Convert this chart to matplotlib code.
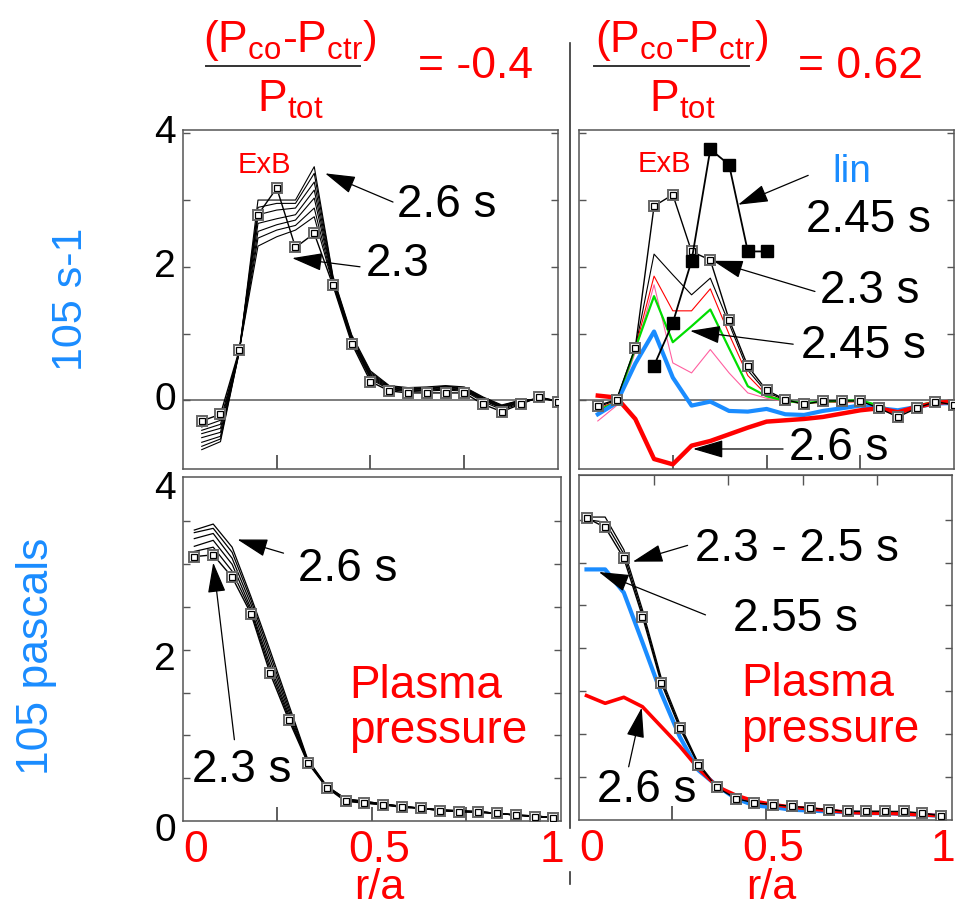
import matplotlib.pyplot as plt
from matplotlib.lines import Line2D

plt.rcParams['font.family'] = ['Liberation Sans', 'DejaVu Sans']
plt.rcParams['mathtext.fontset'] = 'custom'
plt.rcParams['mathtext.rm'] = 'Liberation Sans'
plt.rcParams['mathtext.it'] = 'Liberation Sans:italic'
plt.rcParams['mathtext.bf'] = 'Liberation Sans:bold'

# ---- data ----
r_top = [0.05, 0.10, 0.15, 0.20, 0.25, 0.30, 0.35, 0.40, 0.45, 0.50,
         0.55, 0.60, 0.65, 0.70, 0.75, 0.80, 0.85, 0.90, 0.95, 1.00]
r_bl = [0.03, 0.08, 0.13, 0.18, 0.23, 0.28, 0.33, 0.38, 0.43, 0.48,
        0.53, 0.58, 0.63, 0.68, 0.73, 0.78, 0.83, 0.88, 0.93, 0.98]
r_br = [0.02, 0.07, 0.12, 0.17, 0.22, 0.27, 0.32, 0.37, 0.42, 0.47,
        0.52, 0.57, 0.62, 0.67, 0.72, 0.77, 0.82, 0.87, 0.92, 0.97]
r_lin = [0.20, 0.25, 0.30, 0.35, 0.40, 0.45, 0.50]

# ExB shearing rate, (Pco-Pctr)/Ptot = -0.4 (10^5 s-1)
exb_l_23 = [-0.31, -0.21, 0.75, 2.78, 3.18, 2.29, 2.50, 1.72, 0.85, 0.28,
            0.14, 0.11, 0.11, 0.11, 0.11, -0.06, -0.17, -0.06, 0.05, -0.02]
exb_l_later = [  # 2.35 s ... 2.6 s
    [-0.40, -0.30, 0.74, 2.31, 2.45, 2.55, 2.75, 1.74, 0.88, 0.32, 0.16, 0.13, 0.14, 0.15, 0.14, -0.02, -0.14, -0.05, 0.04, -0.02],
    [-0.45, -0.36, 0.74, 2.43, 2.55, 2.62, 2.88, 1.76, 0.90, 0.34, 0.17, 0.14, 0.15, 0.17, 0.15, 0.00, -0.12, -0.04, 0.04, -0.01],
    [-0.50, -0.42, 0.74, 2.53, 2.63, 2.70, 3.03, 1.78, 0.91, 0.36, 0.18, 0.15, 0.16, 0.18, 0.16, 0.01, -0.11, -0.03, 0.03, -0.01],
    [-0.56, -0.48, 0.73, 2.65, 2.72, 2.78, 3.15, 1.80, 0.93, 0.38, 0.19, 0.16, 0.17, 0.19, 0.17, 0.02, -0.10, -0.02, 0.03, 0.00],
    [-0.63, -0.54, 0.73, 2.78, 2.85, 2.88, 3.27, 1.82, 0.94, 0.40, 0.20, 0.17, 0.18, 0.20, 0.18, 0.03, -0.09, -0.01, 0.02, 0.00],
    [-0.69, -0.58, 0.72, 2.89, 2.95, 2.95, 3.40, 1.84, 0.96, 0.42, 0.21, 0.18, 0.19, 0.21, 0.19, 0.04, -0.08, 0.00, 0.02, 0.00],
    [-0.74, -0.62, 0.72, 3.00, 3.00, 3.00, 3.50, 1.86, 0.98, 0.44, 0.22, 0.19, 0.20, 0.22, 0.20, 0.05, -0.07, 0.00, 0.02, 0.00],
]

# ExB shearing rate, (Pco-Pctr)/Ptot = 0.62
exb_r_23 = [-0.08, 0.01, 0.79, 2.91, 3.08, 2.23, 2.10, 1.21, 0.51, 0.15,
            0.01, -0.06, -0.01, -0.01, -0.01, -0.12, -0.25, -0.12, -0.02, -0.07]
exb_r_235 = [-0.10, 0.00, 0.78, 2.19, 1.88, 1.58, 1.83, 1.15, 0.45, 0.12,
             0.00, -0.05, -0.02, -0.02, -0.01, -0.10, -0.22, -0.10, -0.03, -0.05]
exb_r_24 = [-0.12, -0.02, 0.78, 1.86, 1.34, 1.34, 1.67, 0.99, 0.37, 0.08,
            -0.01, -0.05, -0.03, -0.03, -0.02, -0.10, -0.20, -0.10, -0.03, -0.05]
exb_r_245 = [-0.15, -0.03, 0.78, 1.56, 0.87, 1.11, 1.36, 0.78, 0.21, 0.06,
             -0.01, -0.04, -0.02, -0.01, 0.00, -0.08, -0.18, -0.08, -0.02, -0.04]
exb_r_25 = [-0.31, -0.08, 0.72, 1.73, 0.56, 0.41, 0.76, 0.41, 0.11, 0.03,
            -0.02, -0.05, -0.03, -0.02, -0.01, -0.08, -0.18, -0.08, -0.02, -0.04]
exb_r_255 = [-0.21, -0.04, 0.55, 1.03, 0.34, -0.08, -0.02, -0.16, -0.17, -0.13,
             -0.21, -0.22, -0.16, -0.12, -0.08, -0.12, -0.15, -0.10, -0.05, -0.04]
exb_r_26 = [0.07, 0.04, -0.28, -0.88, -0.96, -0.68, -0.61, -0.51, -0.41, -0.32,
            -0.30, -0.28, -0.25, -0.20, -0.15, -0.12, -0.18, -0.10, -0.04, -0.02]
lin_245 = [0.52, 1.16, 2.09, 3.76, 3.53, 2.23, 2.23]

# Plasma pressure (10^5 pascals)
p_l_23 = [3.09, 3.11, 2.85, 2.42, 1.73, 1.18, 0.68, 0.39, 0.23, 0.21,
          0.19, 0.16, 0.15, 0.12, 0.11, 0.11, 0.09, 0.07, 0.05, 0.04]
p_l_later = [
    [3.15, 3.20, 2.92, 2.45, 1.78, 1.21, 0.69, 0.40, 0.24, 0.21, 0.19, 0.16, 0.15, 0.12, 0.11, 0.10, 0.09, 0.07, 0.05, 0.04],
    [3.21, 3.28, 3.00, 2.48, 1.83, 1.24, 0.69, 0.40, 0.25, 0.22, 0.19, 0.17, 0.15, 0.13, 0.11, 0.10, 0.09, 0.07, 0.05, 0.04],
    [3.30, 3.36, 3.07, 2.53, 1.89, 1.28, 0.70, 0.40, 0.25, 0.22, 0.20, 0.17, 0.15, 0.13, 0.12, 0.11, 0.09, 0.07, 0.06, 0.04],
    [3.37, 3.42, 3.14, 2.58, 1.95, 1.32, 0.71, 0.41, 0.26, 0.23, 0.20, 0.17, 0.15, 0.13, 0.12, 0.11, 0.09, 0.07, 0.06, 0.04],
    [3.40, 3.47, 3.20, 2.62, 2.00, 1.36, 0.72, 0.41, 0.26, 0.23, 0.20, 0.17, 0.15, 0.13, 0.12, 0.11, 0.09, 0.07, 0.06, 0.04],
]
p_r_23 = [3.52, 3.41, 3.05, 2.37, 1.60, 1.07, 0.64, 0.38, 0.25, 0.20,
          0.18, 0.16, 0.14, 0.12, 0.10, 0.10, 0.10, 0.10, 0.08, 0.05]
p_r_later = [
    [3.50, 3.47, 3.10, 2.41, 1.63, 1.09, 0.65, 0.38, 0.25, 0.20, 0.18, 0.16, 0.14, 0.12, 0.10, 0.10, 0.10, 0.09, 0.08, 0.05],
    [3.53, 3.53, 3.15, 2.45, 1.66, 1.12, 0.66, 0.39, 0.25, 0.20, 0.18, 0.16, 0.14, 0.12, 0.10, 0.10, 0.10, 0.09, 0.08, 0.05],
]
p_r_255 = [2.92, 2.92, 2.65, 2.07, 1.48, 0.97, 0.58, 0.40, 0.25, 0.17,
           0.15, 0.12, 0.11, 0.10, 0.09, 0.08, 0.08, 0.07, 0.06, 0.05]
p_r_26 = [1.45, 1.36, 1.43, 1.32, 1.09, 0.86, 0.60, 0.39, 0.29, 0.22,
          0.18, 0.15, 0.13, 0.11, 0.09, 0.08, 0.08, 0.07, 0.06, 0.05]

RED = '#ff0000'
BLUE = '#1a8cff'
GREEN = '#00dd00'
PINK = '#ff5fa0'
FRAME = '#555555'
BIG = 33

fig = plt.figure(figsize=(9.56, 9.07), dpi=100)
ax_tl = fig.add_axes([0.1914, 0.4829, 0.3923, 0.3738])
ax_tr = fig.add_axes([0.6057, 0.4829, 0.3923, 0.3738])
ax_bl = fig.add_axes([0.1914, 0.0948, 0.3954, 0.3793])
ax_br = fig.add_axes([0.6057, 0.0959, 0.3902, 0.3804])


def frame(ax, ylim, yticks, xticks):
    ax.set_xlim(0, 1)
    ax.set_ylim(*ylim)
    for s in ax.spines.values():
        s.set_color(FRAME)
        s.set_linewidth(1.1)
    ax.set_yticks(yticks)
    ax.set_yticklabels([])
    ax.tick_params(axis='y', direction='in', left=True, right=True,
                   length=5, width=1, color=FRAME)
    ax.set_xticks(xticks)
    ax.set_xticklabels([])
    ax.tick_params(axis='x', direction='in', length=10, width=1.1, color='#333333')


def squares(ax, x, y):
    ax.plot(x, y, color='black', lw=1.0, marker='s', ms=7.5, mfc='white',
            mec='#666666', mew=1.4, zorder=5)
    ax.plot(x, y, ls='none', marker='s', ms=4.0, mfc='white',
            mec='black', mew=0.9, zorder=6)


def arrow(ax, tail, tip):
    ax.annotate('', xy=tip, xytext=tail, annotation_clip=False,
                arrowprops=dict(arrowstyle='-|>,head_length=0.95,head_width=0.28',
                                mutation_scale=20, lw=0.9, color='black',
                                shrinkA=0, shrinkB=0))


def label(ax, x, y, s, color='black', size=BIG):
    ax.text(x, y, s, color=color, fontsize=size, ha='center', va='baseline')


top_y = (-1.03, 4.05)
bot_y = (0, 4.02)
frame(ax_tl, top_y, [0, 1, 2, 3, 4], [0.25, 0.5, 0.75])
frame(ax_tr, top_y, [0, 1, 2, 3, 4], [0.25, 0.5, 0.75])
frame(ax_bl, bot_y, [0.5, 1, 1.5, 2, 2.5, 3, 3.5], [0.25, 0.5, 0.75])
frame(ax_br, bot_y, [0.5, 1, 1.5, 2, 2.5, 3, 3.5], [0.25, 0.5])
sec = ax_br.secondary_xaxis('top')
sec.set_xticks([0.2, 0.4, 0.6, 0.8])
sec.set_xticklabels([])
sec.tick_params(direction='in', length=7, width=1, color=FRAME)
sec.spines['top'].set_color(FRAME)

for ax in (ax_tl, ax_tr):
    ax.axhline(0, color='#666666', lw=1.2, zorder=1)

# ---- top left: ExB, counter ----
for prof in exb_l_later:
    ax_tl.plot(r_top, prof, color='black', lw=0.8, zorder=3)
squares(ax_tl, r_top, exb_l_23)
label(ax_tl, 0.216, 3.40, 'ExB', RED, 21)
label(ax_tl, 0.704, 2.74, '2.6 s')
arrow(ax_tl, (0.560, 2.97), (0.379, 3.40))
label(ax_tl, 0.571, 1.86, '2.3')
arrow(ax_tl, (0.472, 2.00), (0.291, 2.13))

# ---- top right: ExB, co ----
ax_tr.plot(r_top, exb_r_235, color='black', lw=0.8, zorder=3)
ax_tr.plot(r_top, exb_r_24, color=RED, lw=0.8, zorder=3)
ax_tr.plot(r_top, exb_r_25, color=PINK, lw=0.8, zorder=3)
ax_tr.plot(r_top, exb_r_245, color=GREEN, lw=1.6, zorder=3)
ax_tr.plot(r_top, exb_r_255, color=BLUE, lw=3.0, zorder=4)
ax_tr.plot(r_top, exb_r_26, color=RED, lw=3.2, zorder=4)
squares(ax_tr, r_top, exb_r_23)
ax_tr.plot(r_lin, lin_245, color='black', lw=1.3, marker='s', ms=8.5,
           mfc='black', mec='black', zorder=7)
label(ax_tr, 0.227, 3.42, 'ExB', RED, 21)
label(ax_tr, 0.728, 3.27, 'lin', BLUE, 28)
label(ax_tr, 0.771, 2.52, '2.45 s')
arrow(ax_tr, (0.611, 3.37), (0.424, 2.93))
label(ax_tr, 0.776, 1.46, '2.3 s')
arrow(ax_tr, (0.629, 1.63), (0.357, 2.09))
label(ax_tr, 0.757, 0.64, '2.45 s')
arrow(ax_tr, (0.571, 0.84), (0.296, 1.04))
label(ax_tr, 0.691, -0.90, '2.6 s')
arrow(ax_tr, (0.544, -0.73), (0.304, -0.73))

# ---- bottom left: pressure, counter ----
for prof in p_l_later:
    ax_bl.plot(r_bl, prof, color='black', lw=0.9, zorder=3)
squares(ax_bl, r_bl, p_l_23)
label(ax_bl, 0.436, 2.80, '2.6 s')
arrow(ax_bl, (0.266, 3.13), (0.144, 3.29))
label(ax_bl, 0.154, 0.46, '2.3 s')
arrow(ax_bl, (0.136, 0.95), (0.080, 3.02))
ax_bl.text(0.439, 1.44, 'Plasma', color=RED, fontsize=BIG, va='baseline')
ax_bl.text(0.439, 0.91, 'pressure', color=RED, fontsize=BIG, va='baseline')

# ---- bottom right: pressure, co ----
for prof in p_r_later:
    ax_br.plot(r_br, prof, color='black', lw=0.9, zorder=3)
ax_br.plot(r_br, p_r_255, color=BLUE, lw=3.0, zorder=3)
ax_br.plot(r_br, p_r_26, color=RED, lw=2.6, zorder=4)
squares(ax_br, r_br, p_r_23)
label(ax_br, 0.584, 3.02, '2.3 - 2.5 s')
arrow(ax_br, (0.291, 3.20), (0.144, 3.01))
label(ax_br, 0.581, 2.20, '2.55 s')
arrow(ax_br, (0.339, 2.39), (0.053, 2.89))
label(ax_br, 0.181, 0.21, '2.6 s')
arrow(ax_br, (0.133, 0.62), (0.168, 1.31))
ax_br.text(0.435, 1.44, 'Plasma', color=RED, fontsize=BIG, va='baseline')
ax_br.text(0.435, 0.91, 'pressure', color=RED, fontsize=BIG, va='baseline')

# ---- tick labels ----
for ax, shift in ((ax_tl, 0.0), (ax_bl, 0.12)):
    for v in (0, 2, 4):
        ax.text(-0.018, v - shift, str(v), transform=ax.get_yaxis_transform(),
                ha='right', va='center', fontsize=28, color='black')
for ax in (ax_bl, ax_br):
    tr = ax.get_xaxis_transform()
    ax.text(0.0, -0.025, '0', transform=tr, ha='left', va='top', fontsize=32, color=RED)
    ax.text(0.52, -0.025, '0.5', transform=tr, ha='center', va='top', fontsize=32, color=RED)
    ax.text(0.975, -0.025, '1', transform=tr, ha='center', va='top', fontsize=32, color=RED)

fig.text(379 / 956, 1 - 899 / 907, 'r/a', color=RED, fontsize=31, ha='center', va='baseline')
fig.text(771 / 956, 1 - 899 / 907, 'r/a', color=RED, fontsize=31, ha='center', va='baseline')

# axis titles
fig.text(82 / 956, 1 - 299 / 907, '105 s-1', color=BLUE, fontsize=31, rotation=90,
         rotation_mode='anchor', ha='center', va='baseline')
fig.text(48 / 956, 1 - 656 / 907, '105 pascals', color=BLUE, fontsize=32, rotation=90,
         rotation_mode='anchor', ha='center', va='baseline')

# ---- header ----
num = r'(P$_{\mathregular{co}}$-P$_{\mathregular{ctr}}$)'
den = r'P$_{\mathregular{tot}}$'
for cx, val, vx, x0, x1 in ((290, '= -0.4', 475, 206, 360), (682, '= 0.62', 860, 594, 749)):
    fig.text(cx / 956, 1 - 52 / 907, num, color=RED, fontsize=32, ha='center', va='baseline')
    fig.text(cx / 956, 1 - 112 / 907, den, color=RED, fontsize=32, ha='center', va='baseline')
    fig.text(vx / 956, 1 - 78 / 907, val, color=RED, fontsize=32, ha='center', va='baseline')
    fig.add_artist(Line2D([x0 / 956, x1 / 956], [1 - 66 / 907] * 2, color='#333333', lw=1.4))

fig.add_artist(Line2D([570 / 956] * 2, [1 - 43 / 907, 1 - 828 / 907], color='#333333', lw=1.2))
fig.add_artist(Line2D([570 / 956] * 2, [1 - 872 / 907, 1 - 884 / 907], color='#333333', lw=1.2))

fig.savefig('out.png', dpi=100)
